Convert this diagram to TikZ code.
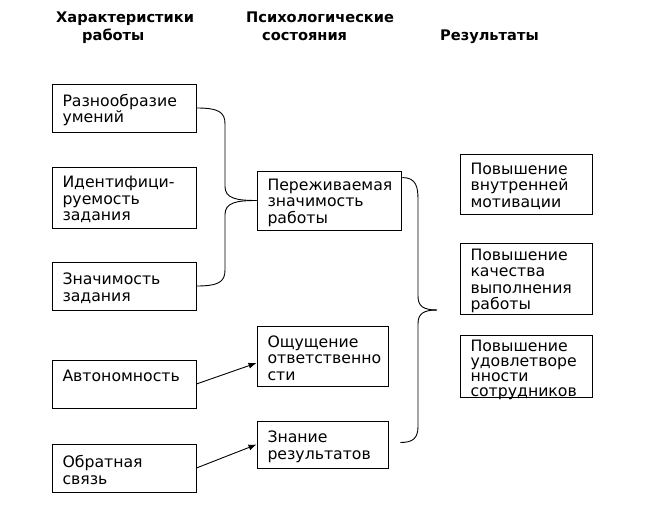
\documentclass[tikz,border=0pt]{standalone}
\usepackage{fontspec}
\setmainfont{DejaVu Sans}
\usetikzlibrary{calc,arrows.meta}
\begin{document}
\begin{tikzpicture}[x=1pt,y=-1pt,
  box/.style={draw, line width=0.9pt, rectangle, inner xsep=10.5pt, inner ysep=0pt,
    align=left, font=\fontsize{15.7}{16.5}\selectfont,
    execute at begin node={\hyphenpenalty=10000\exhyphenpenalty=10000\rule{0pt}{16pt}}},
  head/.style={inner sep=0pt, anchor=north west, align=left,
    font=\fontsize{14.6}{18}\selectfont\bfseries},
  conn/.style={line width=0.9pt},
  arr/.style={line width=0.9pt, -{Latex[length=8pt,width=6pt]}}]
\useasboundingbox (0,0) rectangle (646,524);

% headers
\node[head] (h1) at (56,12) {Характеристики\\\hspace*{26pt}работы};
\node[head] (h2) at (246,12) {Психологические\\\hspace*{16pt}состояния};
\node[head] (h3) at (440,30) {Результаты};

% left column
\node[box, minimum width=144, minimum height=48, text width=123] (b1) at (124,108) {Разнообразие\\умений};
\node[box, minimum width=144, minimum height=61, text width=123] (b2) at (124,197.5) {Идентифици-\\руемость\\задания};
\node[box, minimum width=144, minimum height=48, text width=123] (b3) at (124,286) {Значимость\\задания};
\node[box, minimum width=144, minimum height=48, text width=123] (b4) at (124,384) {Автономность\\\strut};
\node[box, minimum width=144, minimum height=48, text width=123] (b5) at (124,468) {Обратная\\связь};

% middle column
\node[box, minimum width=144, minimum height=59, text width=123] (p1) at (329,200.5) {Переживаемая\\значимость\\работы};
\node[box, minimum width=131, minimum height=60, text width=110] (o1) at (322.5,356) {Ощущение\\ответственно\\сти};
\node[box, minimum width=131, minimum height=47, text width=110] (z1) at (322.5,444.5) {Знание\\результатов};

% right column
\node[box, minimum width=132, minimum height=60, text width=111] (r1) at (526,184) {Повышение\\внутренней\\мотивации};
\node[box, minimum width=132, minimum height=71, text width=111] (r2) at (526,278.5) {Повышение\\качества\\выполнения\\работы};
\node[box, minimum width=132, minimum height=62, text width=111,
  font=\fontsize{15.7}{15.3}\selectfont] (r3) at (526,366) {Повышение\\удовлетворе\\нности\\\smash{сотрудников}};

% left brace
\coordinate (bx) at (225,0);
\draw[conn] (b1.east) .. controls +(22,0) and +(0,-12) .. ($(bx|-b1.east)+(0,16)$)
  -- ($(bx|-p1.west)+(0,-14)$) .. controls +(0,12) and +(-20,0) .. (p1.west);
\draw[conn] (p1.west) .. controls +(-20,0) and +(0,-12) .. ($(bx|-p1.west)+(0,14)$)
  -- ($(bx|-b3.east)+(0,-16)$) .. controls +(0,12) and +(22,0) .. (b3.east);

% right brace
\coordinate (rt) at ($(p1.north east)+(1,7)$);
\coordinate (rb) at ($(z1.east)+(12,-2)$);
\coordinate (tip) at (437,310);
\coordinate (rx) at (418,0);
\draw[conn] (rt) .. controls +(14,0) and +(0,-12) .. ($(rx|-rt)+(0,22)$)
  -- ($(rx|-tip)+(0,-14)$) .. controls +(0,10) and +(-14,0) .. (tip);
\draw[conn] (tip) .. controls +(-14,0) and +(0,-10) .. ($(rx|-tip)+(0,14)$)
  -- ($(rx|-rb)+(0,-16)$) .. controls +(0,12) and +(12,0) .. (rb);

% arrows
\draw[arr] (b4.east) -- ([yshift=-7pt]o1.west);
\draw[arr] (b5.east) -- (z1.west);
\end{tikzpicture}
\end{document}
